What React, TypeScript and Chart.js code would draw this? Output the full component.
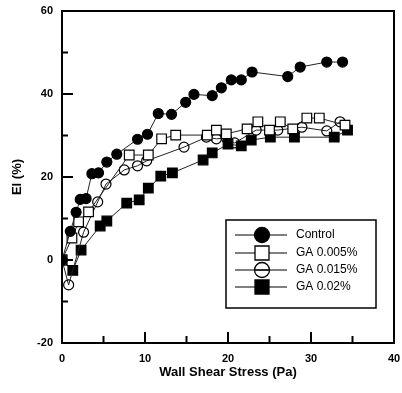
import React, { useEffect, useRef } from "react";
import { Chart, registerables } from "chart.js";

Chart.register(...registerables);

const seriesNames = ["Control", "GA 0.005%", "GA 0.015%", "GA 0.02%"];

const controlX = [0, 1.0, 1.7, 2.2, 2.9, 3.6, 4.4, 5.4, 6.6, 9.1, 10.3, 11.6, 13.2, 14.9, 15.9, 18.1, 19.2, 20.4, 21.6, 22.9, 27.2, 28.7, 31.9, 33.8];
const controlY = [0, 6.9, 11.5, 14.6, 14.8, 20.8, 21.0, 23.6, 25.5, 29.1, 30.3, 35.3, 35.1, 38.0, 39.9, 39.6, 41.5, 43.4, 43.4, 45.3, 44.2, 46.5, 47.7, 47.7];

const ga005X = [0, 1.2, 2.0, 3.2, 8.1, 10.4, 12.0, 13.7, 17.5, 18.6, 19.8, 22.3, 23.6, 25.0, 26.3, 27.8, 29.5, 31.0, 34.1];
const ga005Y = [0, 5.3, 9.2, 11.6, 25.3, 25.3, 29.2, 30.1, 30.1, 31.3, 30.4, 31.6, 33.3, 31.3, 33.3, 31.6, 34.2, 34.2, 32.5];

const ga015X = [0, 0.8, 2.6, 4.3, 5.3, 7.5, 9.1, 10.2, 14.7, 17.4, 18.6, 19.8, 20.8, 23.4, 26.0, 28.9, 31.9, 33.5];
const ga015Y = [0, -6.0, 6.7, 14.0, 18.3, 21.7, 22.7, 23.9, 27.2, 29.6, 29.2, 29.4, 28.2, 31.3, 31.3, 32.0, 31.1, 33.3];

const ga02X = [0, 1.3, 2.3, 4.6, 5.4, 7.8, 9.3, 10.4, 11.9, 13.3, 17.0, 18.1, 20.0, 21.6, 22.8, 25.1, 28.0, 32.8, 34.4];
const ga02Y = [0, -2.5, 2.4, 8.2, 9.4, 13.7, 14.5, 17.3, 20.2, 21.0, 24.1, 25.8, 27.9, 27.5, 28.9, 29.6, 29.6, 29.6, 31.3];

const xTicks = [0, 10, 20, 30, 40];
const yTicks = [-20, 0, 20, 40, 60];

const toPts = (xs: number[], ys: number[]) => xs.map((x, i) => ({ x, y: ys[i] }));

const FONT = "'Liberation Sans', Arial, sans-serif";

const framePlugin = {
  id: "frame",
  afterDraw(chart: any) {
    const { ctx, chartArea: a, scales } = chart;
    const xs = scales.x;
    const ys = scales.y;
    ctx.save();
    ctx.strokeStyle = "#000";
    ctx.lineWidth = 2;
    ctx.strokeRect(a.left, a.top, a.right - a.left, a.bottom - a.top);
    ctx.beginPath();
    for (let v = 5; v < 40; v += 5) {
      const px = xs.getPixelForValue(v);
      const len = v % 10 === 0 ? 11 : 7;
      ctx.moveTo(px, a.bottom);
      ctx.lineTo(px, a.bottom - len);
    }
    for (let v = -10; v < 60; v += 10) {
      const py = ys.getPixelForValue(v);
      const len = v % 20 === 0 ? 11 : 6;
      ctx.moveTo(a.left, py);
      ctx.lineTo(a.left + len, py);
    }
    ctx.stroke();

    // legend
    const bx = a.left + 164;
    const by = a.top + 209;
    const bw = 150;
    const bh = 88;
    ctx.fillStyle = "#fff";
    ctx.fillRect(bx, by, bw, bh);
    ctx.lineWidth = 1.5;
    ctx.strokeRect(bx, by, bw, bh);
    const rowsY = [15, 33, 50, 67];
    chart.data.datasets.forEach((ds: any, i: number) => {
      const cy = by + rowsY[i];
      ctx.strokeStyle = "#000";
      ctx.lineWidth = 1;
      ctx.beginPath();
      ctx.moveTo(bx + 9, cy);
      ctx.lineTo(bx + 61, cy);
      ctx.stroke();
      const mx = bx + 36;
      ctx.lineWidth = 1.3;
      ctx.fillStyle = ds.pointBackgroundColor;
      ctx.beginPath();
      if (ds.pointStyle === "circle") {
        ctx.arc(mx, cy, 7.5, 0, Math.PI * 2);
      } else {
        ctx.rect(mx - 7, cy - 7, 14, 14);
      }
      if (ds.pointBackgroundColor !== "rgba(255,255,255,0)") ctx.fill();
      ctx.stroke();
      if (ds.pointStyle === "circle" && ds.pointBackgroundColor === "rgba(255,255,255,0)") {
        ctx.beginPath();
        ctx.moveTo(mx - 7.5, cy);
        ctx.lineTo(mx + 7.5, cy);
        ctx.stroke();
      }
      ctx.fillStyle = "#000";
      ctx.font = `12px ${FONT}`;
      ctx.textBaseline = "middle";
      ctx.textAlign = "left";
      ctx.fillText(ds.label, bx + 70, cy);
    });
    ctx.restore();
  },
};

export default function App() {
  const ref = useRef<HTMLCanvasElement | null>(null);
  useEffect(() => {
    document.body.style.margin = "0";
    if (!ref.current) return;
    const mk = (label: string, xs: number[], ys: number[], style: string, fill: string, r: number) => ({
      label,
      data: toPts(xs, ys),
      showLine: true,
      borderColor: "#222",
      borderWidth: 1,
      pointStyle: style,
      pointRadius: r,
      pointBackgroundColor: fill,
      pointBorderColor: "#000",
      pointBorderWidth: 1.2,
    });
    const chart = new Chart(ref.current, {
      type: "scatter",
      data: {
        datasets: [
          mk(seriesNames[0], controlX, controlY, "circle", "#000", 5),
          mk(seriesNames[1], ga005X, ga005Y, "rect", "#fff", 6.8),
          mk(seriesNames[2], ga015X, ga015Y, "circle", "rgba(255,255,255,0)", 5),
          mk(seriesNames[3], ga02X, ga02Y, "rect", "#000", 6.8),
        ] as any,
      },
      options: {
        animation: false,
        responsive: false,
        devicePixelRatio: 1,
        layout: { padding: { left: 0, right: 6, top: 11, bottom: 0 } },
        plugins: { legend: { display: false }, tooltip: { enabled: false } },
        scales: {
          x: {
            type: "linear",
            min: 0,
            max: 40,
            afterFit: (s: any) => { s.height = 50; s.paddingLeft = 0; s.paddingRight = 0; },
            afterBuildTicks: (s: any) => { s.ticks = xTicks.map((v) => ({ value: v })); },
            grid: { display: false, drawTicks: false },
            border: { display: false },
            ticks: { padding: 9, color: "#000", font: { family: FONT, size: 11, weight: "bold" } },
            title: { display: true, text: "Wall Shear Stress (Pa)", color: "#000", padding: { top: 0, bottom: 13 }, font: { family: FONT, size: 13, weight: "bold" } },
          },
          y: {
            type: "linear",
            min: -20,
            max: 60,
            afterFit: (s: any) => { s.width = 62; s.paddingTop = 0; s.paddingBottom = 0; },
            afterBuildTicks: (s: any) => { s.ticks = yTicks.map((v) => ({ value: v })); },
            grid: { display: false, drawTicks: false },
            border: { display: false },
            ticks: { padding: 9, color: "#000", font: { family: FONT, size: 11, weight: "bold" } },
            title: { display: true, text: "El (%)", color: "#000", padding: { top: 10, bottom: 0 }, font: { family: FONT, size: 13, weight: "bold" } },
          },
        },
      } as any,
      plugins: [framePlugin],
    });
    return () => chart.destroy();
  }, []);
  return (
    <div style={{ width: 402, height: 393 }}>
      <canvas ref={ref} width={402} height={393} style={{ display: "block" }} />
    </div>
  );
}
